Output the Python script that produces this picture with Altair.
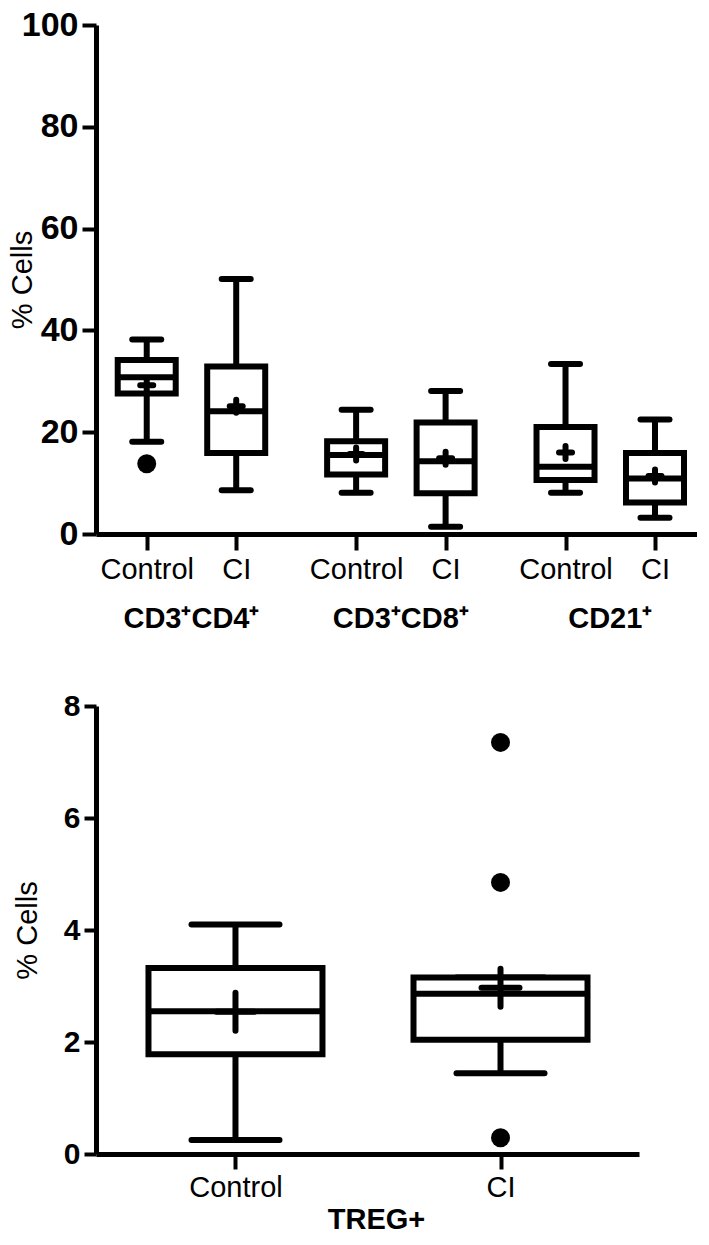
import json
import altair as alt
import pandas as pd

# ---------------- data ----------------
groups = ["CD3⁺CD4⁺", "CD3⁺CD8⁺", "CD21⁺"]
conditions = ["Control", "CI"]

# top panel, boxes in order: CD4 Control, CD4 CI, CD8 Control, CD8 CI, CD21 Control, CD21 CI
top_low = [18.1, 8.6, 8.1, 1.4, 8.1, 3.2]
top_q1 = [27.6, 15.9, 11.7, 8.0, 10.6, 6.2]
top_median = [30.8, 24.1, 15.5, 14.3, 13.2, 10.9]
top_q3 = [34.2, 32.9, 18.2, 21.9, 21.0, 15.9]
top_high = [38.2, 50.1, 24.4, 28.1, 33.4, 22.5]
top_mean = [29.2, 25.1, 15.7, 14.9, 16.0, 11.4]
top_outlier_box = [0]
top_outlier_val = [13.8]
top_ticks = [0, 20, 40, 60, 80, 100]

# bottom panel (TREG+)
treg_title = "TREG+"
treg_low = [0.25, 1.44]
treg_q1 = [1.78, 2.04]
treg_median = [2.55, 2.86]
treg_q3 = [3.32, 3.15]
treg_high = [4.10, 3.15]
treg_mean = [2.54, 2.97]
treg_outlier_box = [1, 1, 1]
treg_outlier_val = [7.35, 4.85, 0.29]
treg_ticks = [0, 2, 4, 6, 8]

y_title = "% Cells"

# ---------------- layout / style ----------------
FONT = "Liberation Sans"
GAP = 2.34                 # distance between groups, in box steps
TOP_W, TOP_H = 601, 509
BOT_W, BOT_H = 543, 448
HLINE = "M-1,0L1,0"
PLUS = "M-1,0L1,0M0,-1L0,1"


def panel(low, q1, med, q3, high, mean, out_box, out_val, positions, labels,
          xdomain, ydomain, yticks, width, height, box_w, cap_w, mean_w,
          ylab_size, ytick_size, title_x, xtick_size, xlab_pad, xtitle=None):
    df = pd.DataFrame({"pos": positions, "label": labels, "low": low, "q1": q1,
                       "median": med, "q3": q3, "high": high, "mean": mean})
    dfo = pd.DataFrame({"pos": [positions[i] for i in out_box], "val": out_val})

    label_expr = f"{json.dumps(labels)}[indexof({json.dumps(positions)}, datum.value)]"
    xaxis_kw = dict(values=positions, labelExpr=label_expr, title=xtitle,
                    grid=False, domainColor="black", domainWidth=5,
                    tickColor="black", tickWidth=4, tickSize=xtick_size,
                    labelFont=FONT, labelFontSize=29, labelColor="black",
                    labelPadding=xlab_pad, labelAngle=0)
    if xtitle:
        xaxis_kw.update(titleFont=FONT, titleFontSize=29, titleFontWeight="bold",
                        titleColor="black", titlePadding=3, titleX=280)
    xaxis = alt.Axis(**xaxis_kw)
    yaxis = alt.Axis(values=yticks, format="d", title=y_title, grid=False,
                     domainColor="black", domainWidth=5,
                     tickColor="black", tickWidth=4, tickSize=ytick_size,
                     labelFont=FONT, labelFontSize=ylab_size, labelFontWeight="bold",
                     labelColor="black", labelPadding=4,
                     titleFont=FONT, titleFontSize=29, titleFontWeight="normal",
                     titleColor="black", titleX=title_x, titleY=height / 2)
    xs = alt.Scale(domain=xdomain, nice=False, zero=False)
    ys = alt.Scale(domain=ydomain, nice=False, zero=False)

    base = alt.Chart(df).encode(x=alt.X("pos:Q", scale=xs, axis=xaxis))
    whisk = base.mark_rule(color="black", strokeWidth=6).encode(
        y=alt.Y("low:Q", scale=ys, axis=yaxis), y2="high:Q")
    cap_kw = dict(shape=HLINE, size=cap_w ** 2, stroke="black", strokeWidth=6,
                  strokeCap="round", filled=False, opacity=1)
    cap_lo = base.mark_point(**cap_kw).encode(y="low:Q")
    cap_hi = base.mark_point(**cap_kw).encode(y="high:Q")
    box = base.mark_bar(width=box_w, fill="white", stroke="black",
                        strokeWidth=6, opacity=1).encode(y="q1:Q", y2="q3:Q")
    median = base.mark_point(shape=HLINE, size=box_w ** 2, stroke="black",
                             strokeWidth=6, filled=False, opacity=1).encode(y="median:Q")
    meanm = base.mark_point(shape=PLUS, size=mean_w ** 2, stroke="black",
                            strokeWidth=6, strokeCap="round", filled=False,
                            opacity=1).encode(y="mean:Q")
    outl = alt.Chart(dfo).mark_circle(size=360, color="black", opacity=1).encode(
        x=alt.X("pos:Q", scale=xs), y=alt.Y("val:Q", scale=ys))
    return [whisk, cap_lo, cap_hi, box, median, meanm, outl]


# top panel
top_pos = [g * GAP + c for g in range(len(groups)) for c in range(len(conditions))]
top_labels = [conditions[c] for g in range(len(groups)) for c in range(len(conditions))]
unit_top = 91
top_dom = [-46.5 / unit_top, (TOP_W - 46.5) / unit_top]
top_layers = panel(top_low, top_q1, top_median, top_q3, top_high, top_mean,
                   top_outlier_box, top_outlier_val, top_pos, top_labels,
                   top_dom, [0, 100], top_ticks, TOP_W, TOP_H,
                   box_w=58, cap_w=29, mean_w=13, ylab_size=34, ytick_size=14,
                   title_x=-59, xtick_size=16, xlab_pad=5)
gdf = pd.DataFrame({"group": groups,
                    "center": [g * GAP + 0.5 for g in range(len(groups))]})
glabels = alt.Chart(gdf).mark_text(font=FONT, fontSize=29, fontWeight="bold",
                                   baseline="alphabetic", color="black").encode(
    x=alt.X("center:Q", scale=alt.Scale(domain=top_dom, nice=False, zero=False)),
    y=alt.value(TOP_H + 94), text="group:N")
top = alt.layer(*top_layers, glabels).properties(width=TOP_W, height=TOP_H)

# bottom panel
bot_pos = [0, 1]
bot_dom = [-137 / 270, (BOT_W - 137) / 270]
bot_layers = panel(treg_low, treg_q1, treg_median, treg_q3, treg_high, treg_mean,
                   treg_outlier_box, treg_outlier_val, bot_pos, conditions,
                   bot_dom, [0, 8], treg_ticks, BOT_W, BOT_H,
                   box_w=174, cap_w=88, mean_w=38, ylab_size=30, ytick_size=12,
                   title_x=-54, xtick_size=15, xlab_pad=4, xtitle=treg_title)
bottom = alt.layer(*bot_layers).properties(width=BOT_W, height=BOT_H)

chart = alt.vconcat(top, bottom, spacing=57).properties(
    padding={"left": 0, "top": 0, "right": 0, "bottom": 0},
    background="white",
).configure_view(strokeWidth=0, stroke="transparent")

chart.save("out.html", embed_options={"renderer": "svg", "actions": False})
